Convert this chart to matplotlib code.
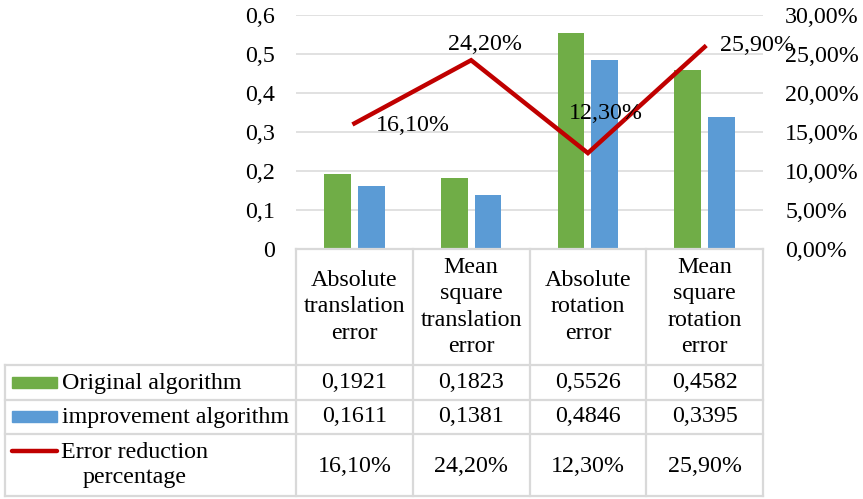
import matplotlib
matplotlib.use("Agg")
import matplotlib.pyplot as plt
from matplotlib.lines import Line2D
from matplotlib.patches import Rectangle
from matplotlib.transforms import blended_transform_factory

plt.rcParams['font.family'] = ['Liberation Serif', 'DejaVu Serif']

categories = ["Absolute\ntranslation\nerror", "Mean\nsquare\ntranslation\nerror",
              "Absolute\nrotation\nerror", "Mean\nsquare\nrotation\nerror"]
original = [0.1921, 0.1823, 0.5526, 0.4582]
improved = [0.1611, 0.1381, 0.4846, 0.3395]
reduction = [0.161, 0.242, 0.123, 0.259]
series_names = ["Original algorithm", "improvement algorithm", "Error reduction\npercentage"]
left_ticks = [0, 0.1, 0.2, 0.3, 0.4, 0.5, 0.6]
right_ticks = [0, 0.05, 0.10, 0.15, 0.20, 0.25, 0.30]

GREEN = "#70AD47"
BLUE = "#5B9BD5"
RED = "#C00000"
GRID = "#D9D9D9"
FS = 17.3

W, H = 863, 499
fig = plt.figure(figsize=(W / 100, H / 100), dpi=100)


def fx(px):
    return px / W


def fy(py):
    return 1 - py / H


ax = fig.add_axes([fx(296), fy(249), fx(763) - fx(296), fy(15) - fy(249)])
ax.set_xlim(-0.5, 3.5)
ax.set_ylim(0, 0.6)
ax.set_yticks(left_ticks)
ax.set_yticklabels([("%g" % t).replace(".", ",") for t in left_ticks], fontsize=FS)
ax.set_xticks([])
ax.tick_params(axis="y", length=0, pad=15)
for s in ax.spines.values():
    s.set_visible(False)
ax.grid(axis="y", color=GRID, linewidth=1.1)
ax.set_axisbelow(True)

idx = list(range(len(categories)))
bw = 0.23
off = 0.145
ax.bar([i - off for i in idx], original, width=bw, color=GREEN, zorder=2)
ax.bar([i + off for i in idx], improved, width=bw, color=BLUE, zorder=2)

ax2 = ax.twinx()
ax2.set_ylim(0, 0.3)
ax2.set_yticks(right_ticks)
ax2.set_yticklabels([("%.2f%%" % (t * 100)).replace(".", ",") for t in right_ticks], fontsize=FS)
ax2.tick_params(axis="y", length=0, pad=16)
for s in ax2.spines.values():
    s.set_visible(False)
ax2.plot(idx, reduction, color=RED, linewidth=3.2, solid_joinstyle="miter", zorder=3)

label_offsets = [(21, -2, "left", "center"), (14, 16, "center", "center"),
                 (18, 40, "center", "center"), (15, 1, "left", "center")]
for i, (r, (dx, dy, ha, va)) in enumerate(zip(reduction, label_offsets)):
    ax2.annotate(("%.2f%%" % (r * 100)).replace(".", ","), (i, r),
                 xytext=(dx, dy), textcoords="offset pixels",
                 ha=ha, va=va, fontsize=FS, zorder=4)

# data table beneath the plot
col_tf = blended_transform_factory(ax.transData, fig.transFigure)
lw = 1.6
# horizontal rules
fig.add_artist(Line2D([fx(296), fx(763)], [fy(249), fy(249)], color=GRID, lw=lw))
for py in [365, 400, 434, 496]:
    fig.add_artist(Line2D([fx(5), fx(763)], [fy(py), fy(py)], color=GRID, lw=lw))
# vertical rules
for xe in [-0.5, 0.5, 1.5, 2.5, 3.5]:
    fig.add_artist(Line2D([xe, xe], [fy(249), fy(496)], color=GRID, lw=lw, transform=col_tf))
fig.add_artist(Line2D([fx(5), fx(5)], [fy(365), fy(496)], color=GRID, lw=lw))

# header cells
for i, c in enumerate(categories):
    fig.text(i, fy(307), c, transform=col_tf, ha="center", va="center",
             fontsize=FS, linespacing=1.33)

rows = [
    [("%.4f" % v).replace(".", ",") for v in original],
    [("%.4f" % v).replace(".", ",") for v in improved],
    [("%.2f%%" % (v * 100)).replace(".", ",") for v in reduction],
]
row_centers = [383, 417, 466]
for vals, yc in zip(rows, row_centers):
    for i, v in enumerate(vals):
        fig.text(i, fy(yc), v, transform=col_tf, ha="center", va="center", fontsize=FS)

# legend keys in the row-header column
fig.add_artist(Rectangle((fx(12), fy(388)), fx(57) - fx(12), fy(377) - fy(388), color=GREEN))
fig.text(fx(62), fy(383), series_names[0], ha="left", va="center", fontsize=FS)
fig.add_artist(Rectangle((fx(12), fy(422)), fx(57) - fx(12), fy(411) - fy(422), color=BLUE))
fig.text(fx(62), fy(417), series_names[1], ha="left", va="center", fontsize=FS)
fig.add_artist(Line2D([fx(12), fx(57)], [fy(451), fy(451)], color=RED, lw=3.2,
                      solid_capstyle="round"))
fig.text(fx(135), fy(465), series_names[2], ha="center", va="center", fontsize=FS,
         linespacing=1.3, multialignment="center")

fig.savefig("out.png", dpi=100)
